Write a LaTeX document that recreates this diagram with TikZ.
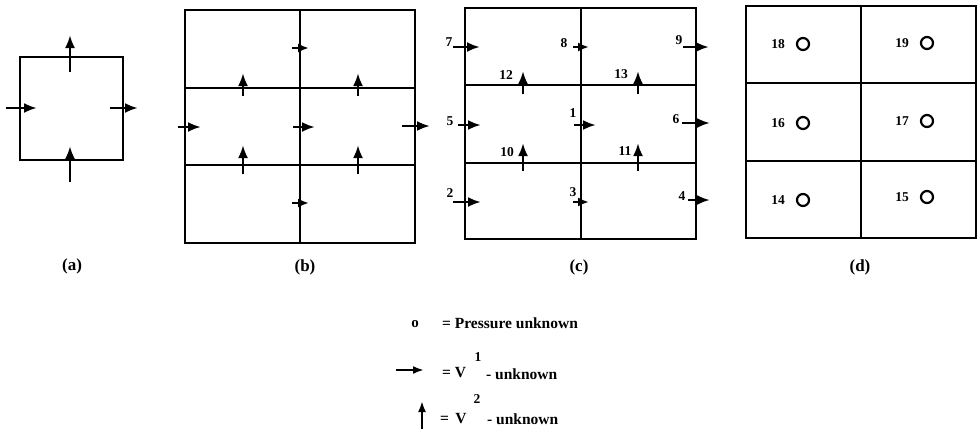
\documentclass[tikz,border=0pt]{standalone}
\usepackage{fontspec}
\setmainfont{Liberation Serif}
\usetikzlibrary{arrows.meta}
\begin{document}
\begin{tikzpicture}[x=1pt,y=-1pt,
  grid/.style={line width=2.2pt},
  vel/.style={line width=2.6pt,-{Latex[length=13pt,width=10pt]}},
  velsmall/.style={line width=2.6pt,-{Latex[length=11pt,width=9pt]}},
  num/.style={font=\bfseries\fontsize{13.5}{13.5}\selectfont,inner sep=0pt},
  capt/.style={font=\bfseries\fontsize{17}{17}\selectfont,inner sep=0pt},
  legend/.style={font=\bfseries\fontsize{15.5}{15.5}\selectfont,inner sep=0pt,anchor=west}]
\useasboundingbox (0,0) rectangle (977,429);

% (a) single cell
\draw[grid] (20,57) rectangle (123,160);
\draw[vel] (70,72) -- (70,35);
\draw[vel] (70,182) -- (70,146);
\draw[vel] (6,108) -- (37,108);
\draw[vel] (110,108) -- (138,108);
\node[capt] (capa) at (72,266) {(a)};

% (b) staggered velocities
\draw[grid] (185,10) rectangle (415,243);
\draw[grid] (300,10) -- (300,243);
\draw[grid] (185,88) -- (415,88);
\draw[grid] (185,165) -- (415,165);
\draw[velsmall] (292,48) -- (309,48);
\draw[velsmall] (292,203) -- (309,203);
\draw[vel] (293,127) -- (315,127);
\draw[vel] (178,127) -- (201,127);
\draw[vel] (402,126) -- (430,126);
\foreach \x in {243,358} {
  \draw[vel] (\x,96) -- (\x,73);
  \draw[vel] (\x,174) -- (\x,145);
}
\node[capt] (capb) at (305,267) {(b)};

% (c) numbered velocity unknowns
\draw[grid] (465,8) rectangle (696,239);
\draw[grid] (581,8) -- (581,239);
\draw[grid] (465,85) -- (696,85);
\draw[grid] (465,163) -- (696,163);
\draw[vel] (453,47) -- (480,47);
\draw[velsmall] (573,47) -- (589,47);
\draw[vel] (683,47) -- (709,47);
\draw[vel] (458,125) -- (481,125);
\draw[vel] (574,125) -- (596,125);
\draw[vel] (682,123) -- (710,123);
\draw[vel] (453,202) -- (481,202);
\draw[velsmall] (573,202) -- (589,202);
\draw[vel] (688,200) -- (710,200);
\foreach \x in {523,638} {
  \draw[vel] (\x,94) -- (\x,71);
  \draw[vel] (\x,171) -- (\x,143);
}
\node[num] (n7) at (449,42) {7};
\node[num] (n8) at (564,43) {8};
\node[num] (n9) at (679,40) {9};
\node[num] (n12) at (506,75) {12};
\node[num] (n13) at (621,74) {13};
\node[num] (n5) at (450,121) {5};
\node[num] (n1) at (573,113) {1};
\node[num] (n6) at (676,119) {6};
\node[num] (n10) at (507,152) {10};
\node[num] (n11) at (625,151) {11};
\node[num] (n2) at (450,193) {2};
\node[num] (n3) at (573,192) {3};
\node[num] (n4) at (682,196) {4};
\node[capt] (capc) at (579,267) {(c)};

% (d) pressure unknowns
\draw[grid] (746,6) rectangle (975.9,238);
\draw[grid] (861,6) -- (861,238);
\draw[grid] (746,83) -- (976,83);
\draw[grid] (746,161) -- (976,161);
\foreach \lab/\px/\py in {18/778/44, 19/902/43, 16/778/123, 17/902/121, 14/778/200, 15/902/197} {
  \node[num] (p\lab) at (\px,\py) {\lab};
  \draw[line width=2.2pt] (\px+25,\py) circle (6);
}
\node[capt] (capd) at (860,267) {(d)};

% legend
\node[font=\bfseries\fontsize{15}{15}\selectfont,inner sep=0pt] (lego) at (415,324) {o};
\node[legend] (legp) at (442,323) {= Pressure unknown};
\draw[line width=2.4pt,-{Latex[length=11pt,width=8pt]}] (396,370) -- (424,370);
\node[legend] (legv1) at (442,373) {= V};
\node[num] (sup1) at (478,357) {1};
\node[legend] (legu1) at (486,374) {- unknown};
\draw[line width=2.4pt,-{Latex[length=11pt,width=8pt]}] (422,429) -- (422,401);
\node[legend] (legv2) at (440,419) {=\, V};
\node[num] (sup2) at (477,399) {2};
\node[legend] (legu2) at (487,419) {- unknown};
\end{tikzpicture}
\end{document}
